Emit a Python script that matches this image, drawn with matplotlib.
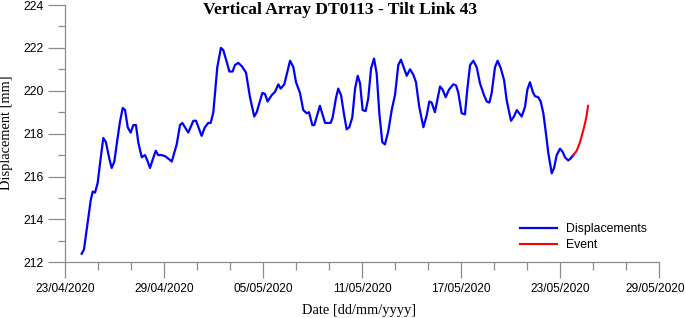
import datetime as dt
import matplotlib
matplotlib.use("Agg")
import matplotlib.pyplot as plt
import matplotlib.dates as mdates
import matplotlib.transforms as mtransforms

# ---- data (days after 23/04/2020, displacement in mm) ----
start = dt.datetime(2020, 4, 23)

disp_days = [
    1.01, 1.15, 1.56, 1.68, 1.82, 1.98, 2.12, 2.32, 2.48, 2.68, 2.83, 2.99,
    3.17, 3.33, 3.50, 3.64, 3.80, 3.98, 4.14, 4.30, 4.44, 4.65, 4.85, 4.99,
    5.15, 5.32, 5.50, 5.65, 5.86, 6.06, 6.32, 6.47, 6.77, 6.97, 7.11, 7.47,
    7.78, 7.94, 8.28, 8.48, 8.68, 8.83, 8.99, 9.23, 9.45, 9.59, 9.80, 9.96,
    10.16, 10.30, 10.50, 10.71, 10.97, 11.21, 11.47, 11.62, 11.96, 12.12,
    12.28, 12.53, 12.73, 12.93, 13.07, 13.29, 13.64, 13.84, 14.00, 14.24,
    14.44, 14.65, 14.79, 14.99, 15.11, 15.45, 15.76, 16.10, 16.22, 16.42,
    16.56, 16.73, 16.91, 17.07, 17.23, 17.41, 17.58, 17.74, 17.88, 18.04,
    18.22, 18.38, 18.55, 18.73, 18.89, 19.05, 19.23, 19.39, 19.59, 19.80,
    20.00, 20.20, 20.36, 20.55, 20.71, 20.91, 21.11, 21.27, 21.47, 21.72,
    21.92, 22.08, 22.22, 22.42, 22.73, 22.89, 23.07, 23.27, 23.53, 23.70,
    23.84, 24.04, 24.24, 24.38, 24.55, 24.75, 24.95, 25.15, 25.39, 25.56,
    25.72, 25.86, 26.06, 26.22, 26.41, 26.61, 26.77, 27.03, 27.21, 27.38,
    27.53, 27.68, 27.88, 28.02, 28.18, 28.35, 28.48, 28.68, 28.83, 28.99,
    29.15, 29.29, 29.50, 29.64, 29.80, 30.00, 30.16, 30.30, 30.50, 30.65,
    30.81,
]
disp_values = [
    212.4, 212.6, 214.9, 215.3, 215.25, 215.7, 216.6, 217.8, 217.6, 216.85, 216.4, 216.7,
    217.7, 218.55, 219.2, 219.1, 218.3, 218.05, 218.4, 218.4, 217.6, 216.9, 217.0, 216.75,
    216.4, 216.8, 217.2, 217.0, 217.0, 216.95, 216.8, 216.7, 217.5, 218.4, 218.5, 218.05,
    218.6, 218.6, 217.9, 218.3, 218.5, 218.5, 219.0, 221.1, 222.0, 221.9, 221.35, 220.9,
    220.9, 221.2, 221.3, 221.15, 220.85, 219.7, 218.8, 219.0, 219.9, 219.85,
    219.5, 219.8, 219.95, 220.3, 220.1, 220.3, 221.4, 221.1, 220.4, 219.9,
    219.1, 218.95, 219.0, 218.4, 218.4, 219.3, 218.5, 218.5, 218.75, 219.65,
    220.1, 219.8, 218.9, 218.2, 218.3, 218.75, 220.1, 220.7, 220.35, 219.1,
    219.05, 219.65, 221.05, 221.5, 220.8, 218.95, 217.6, 217.5, 218.1, 219.1,
    219.8, 221.2, 221.45, 221.05, 220.7, 221.0, 220.75, 220.4, 219.25, 218.3,
    218.85, 219.5, 219.45, 219.0, 220.2, 220.05, 219.7, 220.05, 220.3, 220.25,
    219.9, 218.95, 218.9, 220.05, 221.2, 221.4, 221.1, 220.35, 219.8, 219.5,
    219.45, 219.9, 221.1, 221.4, 221.05, 220.5, 219.55, 218.6, 218.8, 219.1,
    218.95, 218.8, 219.25, 220.05, 220.4, 219.95, 219.75, 219.7, 219.5, 218.95,
    218.0, 217.1, 216.15, 216.4, 217.0, 217.3, 217.15, 216.9, 216.75, 216.85,
    217.0,
]
event_days = [30.81, 31.01, 31.21, 31.41, 31.58, 31.70]
event_values = [217.0, 217.2, 217.6, 218.15, 218.7, 219.3]

title = "Vertical Array DT0113 - Tilt Link 43"
x_label = "Date [dd/mm/yyyy]"
y_label = "Displacement [mm]"

disp_dates = [start + dt.timedelta(days=d) for d in disp_days]
event_dates = [start + dt.timedelta(days=d) for d in event_days]

plt.rcParams["font.family"] = "Liberation Sans"

fig = plt.figure(figsize=(6.85, 3.18), dpi=100)
ax = fig.add_axes([65 / 685, 1 - 262.3 / 318, (659 - 65) / 685, (262.3 - 5) / 318])

ax.plot(disp_dates, disp_values, color="#0000ff", lw=1.6, label="Displacements")
ax.plot(event_dates, event_values, color="#ff0000", lw=1.5, label="Event")

ax.set_xlim(start, start + dt.timedelta(days=36))
ax.set_ylim(212, 224)

major_dates = [start + dt.timedelta(days=6 * i) for i in range(7)]
minor_dates = [start + dt.timedelta(days=2 * i) for i in range(19)]
ax.set_xticks(major_dates)
ax.set_xticks(minor_dates, minor=True)
ax.xaxis.set_major_formatter(mdates.DateFormatter("%d/%m/%Y"))
ax.set_yticks(range(212, 225, 2))
ax.set_yticks(range(212, 225, 1), minor=True)

for side in ("top", "right"):
    ax.spines[side].set_visible(False)
for side in ("left", "bottom"):
    ax.spines[side].set_color("#8c8c8c")
    ax.spines[side].set_linewidth(0.9)

ax.tick_params(axis="x", which="major", length=11.5, width=0.9, color="#8c8c8c",
               labelsize=8.6, pad=3.5)
ax.tick_params(axis="x", which="minor", length=5.8, width=0.9, color="#8c8c8c")
ax.tick_params(axis="y", which="major", length=12, width=0.9, color="#8c8c8c",
               labelsize=8.8, pad=3)
ax.tick_params(axis="y", which="minor", length=5, width=0.9, color="#8c8c8c")

# nudge the last date label so it stays inside the picture
fig.canvas.draw()
last = ax.get_xticklabels()[-1]
last.set_transform(last.get_transform()
                   + mtransforms.ScaledTranslation(-4 / 100, 0, fig.dpi_scale_trans))

fig.text(340.5 / 685, 1 - 14 / 318, title, ha="center", va="baseline",
         family="Liberation Serif", weight="bold", fontsize=12.6)
fig.text(359 / 685, 1 - 314 / 318, x_label, ha="center", va="baseline",
         family="Liberation Serif", fontsize=10.4)
fig.text(7 / 685, 1 - 133 / 318, y_label, ha="center", va="center", rotation=90,
         family="Liberation Serif", fontsize=10.4)

ax.legend(loc="center left", bbox_to_anchor=(520 / 685, 1 - 237 / 318),
          bbox_transform=fig.transFigure, frameon=False, borderpad=0,
          borderaxespad=0, handlelength=3.0, handletextpad=0.75,
          labelspacing=0.35, fontsize=8.8)

fig.savefig("out.png", dpi=100)
